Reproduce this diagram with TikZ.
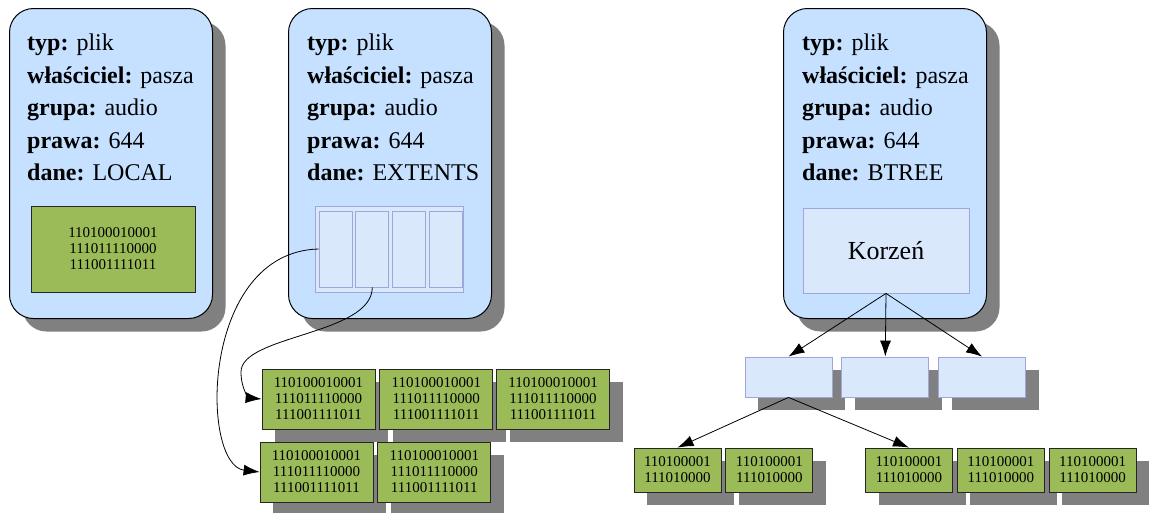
\documentclass[tikz,border=0pt]{standalone}
\usepackage{fontspec}
\setmainfont{Liberation Serif}
\usetikzlibrary{arrows.meta,positioning,shadows}
\definecolor{inodeblue}{RGB}{197,225,255}
\definecolor{cellblue}{RGB}{218,232,252}
\definecolor{cellline}{RGB}{160,166,218}
\definecolor{bitgreen}{RGB}{155,187,89}
\definecolor{shadowgray}{RGB}{128,128,128}
\newcommand{\attrs}[1]{\textbf{typ:} plik\\\textbf{właściciel:} pasza\\\textbf{grupa:} audio\\\textbf{prawa:} 644\\\textbf{dane:} #1}
\newcommand{\bitsA}{110100010001\\111011110000\\111001111011}
\newcommand{\bitsB}{110100001\\111010000}
\tikzset{
  shd/.style={drop shadow={shadow xshift=13pt, shadow yshift=-13pt, fill=shadowgray, opacity=1}},
  inode/.style={draw, line width=1pt, rounded corners=24pt, fill=inodeblue, minimum width=203pt, minimum height=310pt, anchor=north west, shd},
  attr/.style={anchor=north west, align=left, inner sep=0pt, font=\fontsize{24}{32.5}\selectfont},
  bits/.style={draw=black!85, line width=0.8pt, fill=bitgreen, align=center, inner sep=0pt, font=\fontsize{15}{16}\selectfont},
  blk/.style={bits, minimum width=113pt, minimum height=60pt, shd},
  leaf/.style={bits, minimum width=87pt, minimum height=44pt, shd},
  cell/.style={draw=cellline, line width=0.8pt, fill=cellblue, inner sep=0pt},
  arr/.style={-{Latex[length=16pt,width=11pt]}, line width=0.8pt},
}
\begin{document}
\begin{tikzpicture}[x=1pt, y=-1pt]
\useasboundingbox (0,0) rectangle (1151,512);

% inode LOCAL
\node[inode] (local) at (9,8) {};
\node[attr] (localtxt) at (27,34) {\attrs{LOCAL}};
\node[bits, minimum width=164pt, minimum height=86pt] (localdata) at (113,249) {\bitsA};

% inode EXTENTS
\node[inode] (extents) at (288,8) {};
\node[attr] (extentstxt) at (307,34) {\attrs{EXTENTS}};
\node[cell, minimum width=148pt, minimum height=86pt] (ext) at (389,249) {};
\node[cell, minimum width=33pt, minimum height=76pt] (e1) at (335.5,249) {};
\node[cell, minimum width=33pt, minimum height=76pt, right=3pt of e1] (e2) {};
\node[cell, minimum width=33pt, minimum height=76pt, right=3pt of e2] (e3) {};
\node[cell, minimum width=33pt, minimum height=76pt, right=3pt of e3] (e4) {};

% bloki danych
\node[blk] (b1) at (318.5,399) {\bitsA};
\node[blk, right=4pt of b1] (b2) {\bitsA};
\node[blk, right=3pt of b2] (b3) {\bitsA};
\node[blk] (b4) at (316.5,472) {\bitsA};
\node[blk, right=4pt of b4] (b5) {\bitsA};

\draw[arr] (e1.west) .. controls (200,252) and (200,465) .. (b4.west);
\draw[arr] (e2.south) .. controls (372,335) and (241,335) .. (241,372)
  .. controls (241,390) and (250,398) .. (b1.west);

% inode BTREE
\node[inode] (btree) at (783,8) {};
\node[attr] (btreetxt) at (802,34) {\attrs{BTREE}};
\node[cell, minimum width=166pt, minimum height=85pt, font=\fontsize{26}{30}\selectfont] (root) at (886,250.5) {Korzeń};

\node[cell, minimum width=87pt, minimum height=40pt, shd] (m1) at (788.5,377) {};
\node[cell, minimum width=87pt, minimum height=40pt, shd, right=9pt of m1] (m2) {};
\node[cell, minimum width=87pt, minimum height=40pt, shd, right=9pt of m2] (m3) {};

\node[leaf] (l1) at (677.5,470) {\bitsB};
\node[leaf, right=4pt of l1] (l2) {\bitsB};
\node[leaf] (l3) at (909,470) {\bitsB};
\node[leaf, right=4pt of l3] (l4) {\bitsB};
\node[leaf, right=4pt of l4] (l5) {\bitsB};

\draw[arr] (root.south) -- (m1.north);
\draw[arr] (root.south) -- (m2.north);
\draw[arr] (root.south) -- (m3.north);
\draw[arr] (m1.south) -- (l1.north);
\draw[arr] (m1.south) -- (l3.north);

\end{tikzpicture}
\end{document}
